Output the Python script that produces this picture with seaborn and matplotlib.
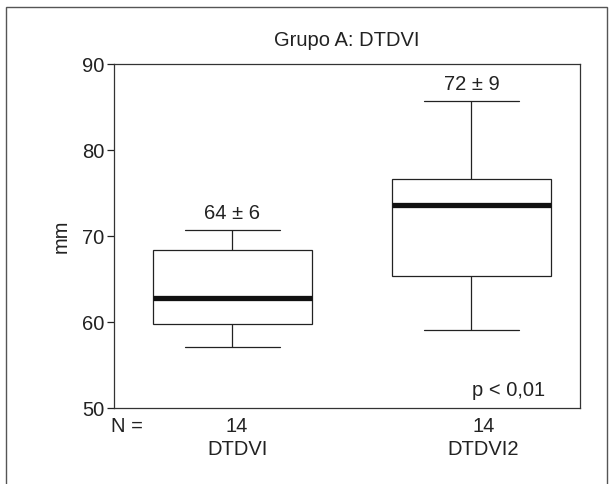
"""Boxplot Grupo A: DTDVI vs DTDVI2."""

import matplotlib
matplotlib.use("Agg")
import matplotlib.pyplot as plt
import pandas as pd
import seaborn as sns
from matplotlib.patches import Rectangle

# five-number summaries: low whisker, Q1, median, Q3, high whisker
groups = ["DTDVI", "DTDVI2"]
dtdvi = [57.2, 59.8, 62.9, 68.4, 70.7]
dtdvi2 = [59.1, 65.4, 73.7, 76.7, 85.8]
n_counts = [14, 14]
mean_sd = ["64 ± 6", "72 ± 9"]
label_y = [72.0, 87.0]

df = pd.DataFrame({
    "grupo": [groups[0]] * len(dtdvi) + [groups[1]] * len(dtdvi2),
    "mm": dtdvi + dtdvi2,
})

sns.set_theme(style="white")
plt.rcParams["font.family"] = ["Liberation Sans", "DejaVu Sans"]
ink = "#222222"
fs = 14.5

fig = plt.figure(figsize=(6.13, 4.84), dpi=100)
ax = fig.add_axes([0.186, 0.156, 0.76, 0.711])

sns.boxplot(data=df, x="grupo", y="mm", whis=(0, 100), width=0.666,
            color="white", linecolor=ink, linewidth=0.9, ax=ax,
            capwidths=0.4,
            medianprops={"linewidth": 3.8, "color": "#111111"})

ax.set_ylim(50, 90)
ax.set_xlim(-0.495, 1.454)
ax.set_yticks([50, 60, 70, 80, 90])
ax.set_xticks([0.02, 1.05])
ax.set_xticklabels([f"{n}\n{g}" for n, g in zip(n_counts, groups)],
                   fontsize=fs, color=ink, linespacing=1.3)
ax.tick_params(axis="x", length=0, pad=6)
ax.tick_params(axis="y", length=5, width=0.9, color=ink, labelsize=fs,
               labelcolor=ink, pad=2, left=True)
for s in ax.spines.values():
    s.set_color("#333333")
    s.set_linewidth(0.9)

ax.set_xlabel("")
ax.set_ylabel("mm", fontsize=fs, color=ink, labelpad=8)
ax.set_title("Grupo A: DTDVI", fontsize=fs, color=ink, pad=13)

for i, (txt, y) in enumerate(zip(mean_sd, label_y)):
    ax.text(i, y, txt, ha="center", va="baseline", fontsize=fs, color=ink)
ax.text(0.925, 0.035, "p < 0,01", transform=ax.transAxes, ha="right",
        va="baseline", fontsize=fs, color=ink)
ax.annotate("N =", xy=(0, 0), xycoords="axes fraction", xytext=(-2, -6),
            textcoords="offset points", ha="left", va="top",
            fontsize=fs, color=ink)

# outer frame around the whole panel
fig.patches.append(Rectangle((6 / 613, -0.05), 601 / 613, 1.05 - 7 / 484,
                             transform=fig.transFigure, fill=False,
                             edgecolor="#555555", linewidth=1.0))

fig.savefig("out.png", dpi=100)
plt.close(fig)
